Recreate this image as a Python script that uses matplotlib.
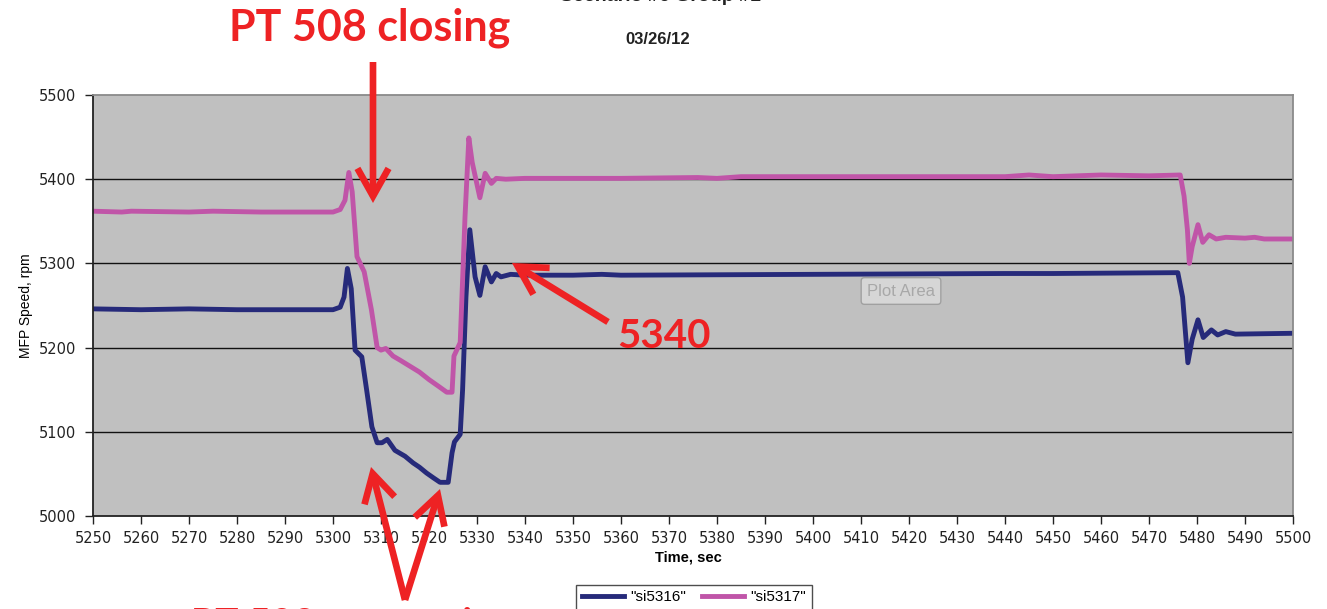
import matplotlib
matplotlib.use("Agg")
import matplotlib.pyplot as plt
from matplotlib.patches import ArrowStyle, FancyArrowPatch

# ---------------- data ----------------
t_5316 = [5250, 5260, 5270, 5280, 5300, 5301.5, 5302.3, 5303, 5303.8, 5304.6, 5306, 5307,
          5308.1, 5309.2, 5310.2, 5311.3, 5312.9, 5315, 5316.7, 5318, 5319.5, 5321, 5322.3,
          5324, 5324.8, 5325.3, 5326.5, 5327, 5327.7, 5328.5, 5329.6, 5330.6, 5331.7, 5333,
          5334, 5335, 5337, 5340, 5350, 5356, 5360, 5400, 5440, 5450, 5476, 5477, 5478.1,
          5479, 5480.2, 5481.3, 5483, 5484.3, 5486, 5488, 5500]
v_5316 = [5246, 5245, 5246, 5245, 5245, 5248, 5260, 5294, 5270, 5197, 5189, 5150,
          5106, 5087, 5087, 5091, 5078, 5071, 5063, 5058, 5051, 5045, 5040,
          5040, 5075, 5088, 5097, 5150, 5260, 5340, 5284, 5262, 5296, 5278,
          5288, 5284, 5287, 5286, 5286, 5287, 5286, 5287, 5288, 5288, 5289, 5260, 5182,
          5210, 5233, 5212, 5221, 5215, 5219, 5216, 5217]

t_5317 = [5250, 5256, 5258, 5270, 5275, 5285, 5300, 5301.5, 5302.5, 5303.3, 5304, 5305,
          5306.5, 5308, 5309.2, 5310, 5311, 5312.5, 5314, 5316, 5318, 5320, 5322, 5323.7,
          5324.8, 5325.2, 5326.5, 5327.5, 5328.3, 5329, 5330.6, 5331.7, 5333, 5334, 5336,
          5340, 5360, 5376, 5380, 5385, 5400, 5440, 5445, 5450, 5460, 5470, 5476.5, 5477.3,
          5478, 5478.4, 5479, 5480.2, 5481.2, 5482.5, 5484, 5486, 5490, 5492, 5494, 5500]
v_5317 = [5362, 5361, 5362, 5361, 5362, 5361, 5361, 5364, 5375, 5408, 5385, 5308,
          5290, 5245, 5200, 5197, 5199, 5190, 5185, 5178, 5171, 5162, 5154, 5147,
          5147, 5190, 5206, 5355, 5449, 5420, 5378, 5407, 5395, 5401, 5400,
          5401, 5401, 5402, 5401, 5403, 5403, 5403, 5405, 5403, 5405, 5404, 5405, 5380,
          5340, 5300, 5320, 5346, 5325, 5334, 5329, 5331, 5330, 5331, 5329, 5329]

x_ticks = list(range(5250, 5501, 10))
y_ticks = [5000, 5100, 5200, 5300, 5400, 5500]
series_names = ['"si5316"', '"si5317"']
title = "Scenario #6 Group #1"
subtitle = "03/26/12"

# ---------------- figure ----------------
W, H = 1327, 609
fig = plt.figure(figsize=(W / 100, H / 100), dpi=100)
ax = fig.add_axes([93 / W, 1 - 516 / H, (1293 - 93) / W, (516 - 95) / H])
ax.set_facecolor("#c0c0c0")

navy = "#262a7a"
pink = "#c055a8"
l1, = ax.plot(t_5316, v_5316, color=navy, lw=3.5, solid_joinstyle="round")
l2, = ax.plot(t_5317, v_5317, color=pink, lw=3.5, solid_joinstyle="round")

ax.set_xlim(5250, 5500)
ax.set_ylim(5000, 5500)
ax.set_xticks(x_ticks)
ax.set_yticks(y_ticks)
tick_font = dict(family="DejaVu Sans", size=10.5)
ax.set_xticklabels([str(v) for v in x_ticks], **tick_font, color="#222222")
ax.set_yticklabels([str(v) for v in y_ticks], **tick_font, color="#222222")
ax.tick_params(axis="both", direction="out", length=6, width=1.0, color="#222222")
ax.tick_params(axis="x", pad=5)
ax.tick_params(axis="y", pad=6)

for yv in y_ticks[1:-1]:
    ax.axhline(yv, color="#111111", lw=1.0, zorder=1)
for s in ["left", "bottom"]:
    ax.spines[s].set_color("#222222")
    ax.spines[s].set_linewidth(1.3)
for s in ["top", "right"]:
    ax.spines[s].set_color("#8a8a8a")
    ax.spines[s].set_linewidth(1.3)

ax.set_ylabel("MFP Speed, rpm", family="Liberation Sans", fontsize=10, labelpad=12)
ax.yaxis.set_label_coords(-60 / 1200, 0.5)
fig.text(688 / W, 1 - 557 / H, "Time, sec", family="Liberation Sans", fontsize=10.5,
         fontweight="bold", ha="center", va="center")

# titles (top one is cut off at the top edge, as in the source)
fig.text(660 / W, 1 + 3 / H, title, family="Liberation Sans", fontsize=14,
         fontweight="bold", ha="center", va="center", color="#222222")
fig.text(658 / W, 1 - 40 / H, subtitle, family="Liberation Sans", fontsize=12,
         fontweight="bold", ha="center", va="center", color="#222222")

# legend (partly cut off at the bottom)
leg = fig.legend([l1, l2], series_names, loc="upper center", ncol=2,
                 bbox_to_anchor=(694 / W, 1 - 585 / H), frameon=True, fancybox=False,
                 prop=dict(family="Liberation Sans", size=11), handlelength=2.8,
                 columnspacing=1.0, borderpad=0.35, handletextpad=0.4,
                 borderaxespad=0)
leg.get_frame().set_edgecolor("#222222")
leg.get_frame().set_linewidth(1.0)

# "Plot Area" tooltip
fig.text(901 / W, 1 - 291 / H, "Plot Area", family="Liberation Sans", fontsize=12,
         color="#a8a8a8", ha="center", va="center",
         bbox=dict(boxstyle="round,pad=0.35,rounding_size=0.2", fc="#d6d6d6",
                   ec="#a0a0a0", lw=1.0))

# red annotations
red = "#ee2224"
fig.text(370 / W, 1 - 40 / H, "PT 508 closing", family="Lato", fontsize=31,
         fontweight="bold", color=red, ha="center", va="baseline")
fig.text(664 / W, 1 - 348 / H, "5340", family="Lato", fontsize=29,
         fontweight="bold", color=red, ha="center", va="baseline")
fig.text(191 / W, 1 - 636 / H, "PT 508 re-opening", family="Lato", fontsize=28,
         fontweight="bold", color=red, ha="left", va="baseline")

astyle = ArrowStyle("->", head_length=1.0, head_width=0.56)


def arrow(tail, tip):
    fig.add_artist(FancyArrowPatch(
        (tail[0], H - tail[1]), (tip[0], H - tip[1]), transform=None,
        arrowstyle=astyle, mutation_scale=20, color=red, lw=4.8,
        capstyle="butt", joinstyle="miter", shrinkA=0, shrinkB=0))


arrow((373, 62), (373, 203))
arrow((608, 322), (512, 263))
arrow((405, 600), (371, 467))
arrow((405, 600), (440, 489))

fig.savefig("out.png", dpi=100)
